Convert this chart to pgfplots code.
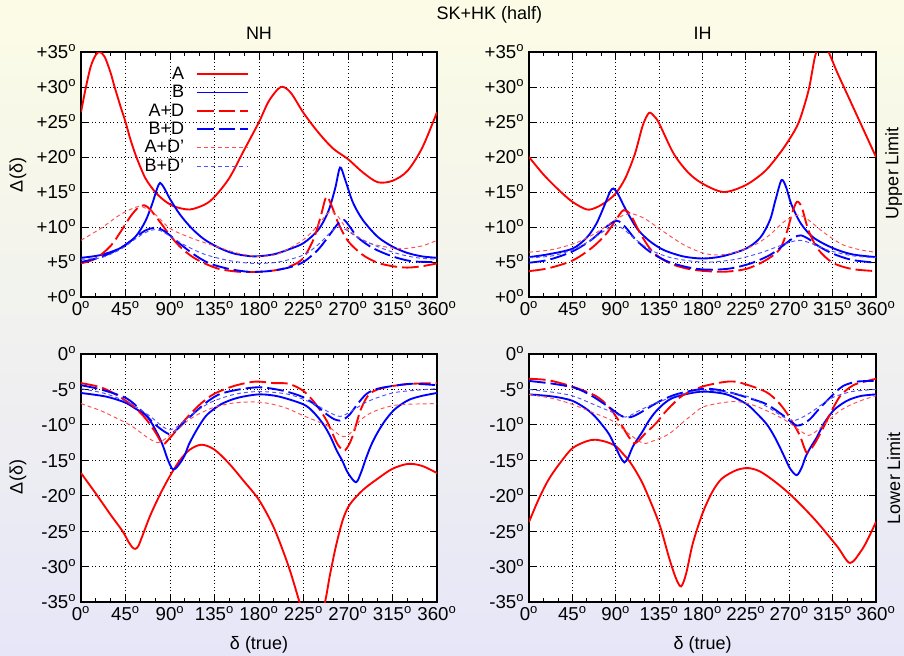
\documentclass[border=0pt]{standalone}
\usepackage{pgfplots}
\pgfplotsset{compat=1.18}
\usepackage{fontspec}
\setmainfont{Liberation Sans}
\newcommand{\dg}[1]{#1\textsuperscript{o}}
\definecolor{bgtop}{RGB}{252,252,230}
\definecolor{bgmid}{RGB}{242,242,242}
\definecolor{bgbot}{RGB}{230,230,248}
\definecolor{lred}{RGB}{255,80,80}
\definecolor{lblue}{RGB}{80,80,255}
\pgfplotsset{
  panel/.style={
    scale only axis, anchor=south west,
    xmin=0, xmax=360,
    xtick={0,45,...,360},
    xticklabels={\dg{0},\dg{45},\dg{90},\dg{135},\dg{180},\dg{225},\dg{270},\dg{315},\dg{360}},
    minor x tick num=2,
    tick align=inside,
    major tick length=5pt, minor tick length=3pt,
    every tick/.style={black, line width=0.6pt},
    grid=major,
    major grid style={black, line width=0.6pt, dash pattern=on 0.6pt off 2.1pt},
    axis line style={black, line width=1.1pt},
    axis background/.style={fill=white},
    tick label style={font=\fontsize{14}{14}\selectfont},
    legend image code/.code={\draw[##1] (0pt,0pt) -- (38pt,0pt);},
  },
  upper/.style={ymin=0, ymax=35, ytick={0,5,...,35},
    yticklabels={\dg{+0},\dg{+5},\dg{+10},\dg{+15},\dg{+20},\dg{+25},\dg{+30},\dg{+35}}},
  lower/.style={ymin=-35, ymax=0, ytick={-35,-30,...,0},
    yticklabels={\dg{-35},\dg{-30},\dg{-25},\dg{-20},\dg{-15},\dg{-10},\dg{-5},\dg{0}}},
  sA/.style={red, line width=1.4pt, smooth, tension=0.5},
  sB/.style={blue, line width=1.4pt, smooth, tension=0.5},
  sAD/.style={red, line width=1.4pt, dash pattern=on 12.5pt off 3.75pt, smooth, tension=0.5},
  sBD/.style={blue, line width=1.4pt, dash pattern=on 12.5pt off 3.75pt, smooth, tension=0.5},
  sADp/.style={lred, line width=0.7pt, dash pattern=on 3pt off 2.3pt, smooth, tension=0.5},
  sBDp/.style={lblue, line width=0.7pt, dash pattern=on 3pt off 2.3pt, smooth, tension=0.5},
}
\begin{document}
\begin{tikzpicture}
\shade[top color=bgtop, middle color=bgmid, bottom color=bgbot] (0,0) rectangle (678pt,-492pt);
\useasboundingbox (0,0) rectangle (678pt,-492pt);

% ---------------- NH, upper limit ----------------
\begin{axis}[panel, upper, at={(60.75pt,-222.75pt)}, width=267pt, height=183.75pt,
  legend plot pos=right, legend cell align=right,
  legend style={draw=none, fill=none, at={(rel axis cs:0.483,0.962)}, anchor=north east,
    column sep=7pt, row sep=-1pt,
    font=\fontsize{13.5}{13.5}\selectfont}]
\addplot[sA] coordinates {(0,26.4) (5,30) (10,33) (15,34.6) (19,35) (24,34.3) (30,32) (34,30) (40,27.2) (45,25) (50,22.5) (56,20) (65,17) (75,15) (85,13.7) (95,12.9) (110,12.5) (125,13.2) (135,14.3) (150,17) (165,21) (180,25) (190,28) (202,30) (212,29.2) (225,26.3) (240,23.5) (255,21.2) (270,19.7) (285,17.8) (300,16.4) (315,16.6) (330,18) (345,21.3) (360,26.4)};
\addlegendentry{A}
\addplot[sB] coordinates {(0,5.6) (20,6.0) (40,7.0) (55,8.6) (65,10.8) (72,13.3) (77,15.5) (80,16.3) (84,15.6) (90,14) (100,11.8) (112,9.8) (125,8.2) (140,7) (155,6.2) (175,5.8) (195,6.1) (210,6.8) (225,7.7) (240,9.6) (250,12.2) (257,15.5) (262,18.5) (267,16.8) (275,13.5) (285,11) (300,8.6) (315,7.2) (330,6.3) (345,5.8) (360,5.6)};
\addlegendentry{B}
\addplot[sAD] coordinates {(0,4.8) (15,5.5) (30,7.3) (40,9.3) (50,11.5) (58,12.8) (64,13.1) (70,12.5) (80,10.7) (90,8.8) (100,7.2) (112,5.8) (125,4.8) (140,4.0) (160,3.6) (180,3.6) (200,3.9) (215,4.6) (225,5.6) (235,8.2) (242,11.3) (248,14.3) (253,13.2) (260,10.6) (270,8) (285,6) (300,4.9) (315,4.4) (330,4.2) (345,4.4) (360,4.8)};
\addlegendentry{A+D}
\addplot[sBD] coordinates {(0,5) (20,5.7) (40,7) (55,8.5) (65,9.5) (75,9.9) (82,9.6) (90,8.8) (100,7.6) (115,6) (130,4.8) (150,4.0) (170,3.6) (190,3.7) (210,4.2) (225,5) (240,6.8) (252,9) (260,10.5) (266,11) (272,10) (280,8.5) (295,7) (315,5.8) (335,5.1) (360,5)};
\addlegendentry{B+D}
\addplot[sADp] coordinates {(0,8.1) (20,9.8) (40,11.8) (55,12.8) (62,12.9) (75,11.8) (90,9.8) (110,8.5) (135,7.3) (160,6.2) (180,5.8) (200,6.2) (225,8.2) (240,10.3) (248,11.8) (254,12.2) (260,11.5) (270,9.6) (290,7.8) (310,7.1) (325,6.9) (345,7.3) (360,8.1)};
\addlegendentry{A+D'}
\addplot[sBDp] coordinates {(0,5.4) (20,5.6) (40,6.8) (55,8.3) (65,9.2) (73,9.6) (80,9.5) (90,8.7) (105,7.4) (125,6.1) (150,5.2) (175,4.8) (200,5.0) (225,6) (240,7.5) (252,9.2) (260,10) (268,9.6) (280,8.5) (300,7.2) (320,6.2) (340,5.6) (360,5.4)};
\addlegendentry{B+D'}
\end{axis}

% ---------------- IH, upper limit ----------------
\begin{axis}[panel, upper, at={(396.75pt,-222.75pt)}, width=260.25pt, height=183.75pt]
\addplot[sA] coordinates {(0,20) (15,17.5) (30,15.4) (45,13.6) (60,12.5) (70,12.8) (80,13.6) (90,14.8) (100,17) (110,20.5) (118,24.5) (124.5,26.3) (130,25.8) (135,24.8) (150,20.5) (165,17.8) (180,16.2) (202,15) (225,16) (245,18) (260,20.5) (270,22.5) (280,25) (290,29.5) (297,34.5) (303,36.2) (310,35.2) (320,32) (330,29) (345,24.5) (360,20)};
\addplot[sB] coordinates {(0,5.7) (20,6.1) (45,6.9) (60,8.5) (70,10.5) (78,13) (84,15) (87.5,15.5) (92,14.8) (100,12.6) (112,9.8) (125,8) (140,6.7) (160,5.8) (180,5.5) (200,5.8) (225,6.9) (240,8.5) (250,11) (256,14) (262,16.7) (267,15.6) (272,13.3) (282,10.5) (295,8.5) (315,7) (335,6.1) (360,5.7)};
\addplot[sAD] coordinates {(0,3.7) (20,4.1) (45,5.2) (65,7) (80,9) (90,11) (98,12.4) (105,11.8) (115,9.2) (125,7) (135,5.7) (150,4.6) (170,3.9) (200,3.6) (225,4) (245,5.2) (260,6.8) (268,9.5) (273,12) (278,13.6) (283,12.8) (290,9.5) (300,6.8) (315,4.9) (335,4) (360,3.7)};
\addplot[sBD] coordinates {(0,4.9) (20,5.3) (45,6.5) (65,8.2) (80,10) (91,10.9) (100,10) (110,8.3) (125,6.5) (145,5) (170,4.1) (190,3.9) (210,4.1) (230,4.8) (250,6) (265,7.5) (275,8.5) (282,8.8) (290,8.3) (300,7.3) (315,6.2) (335,5.3) (360,4.9)};
\addplot[sADp] coordinates {(0,6.4) (25,6.8) (50,7.8) (70,9.2) (85,10.6) (95,11.5) (106,11.9) (120,11.2) (140,9.3) (160,7.5) (180,6.3) (196,6) (215,6.4) (235,7.5) (250,8.9) (265,10.8) (279,11.7) (290,11) (305,9.3) (325,7.5) (345,6.7) (360,6.4)};
\addplot[sBDp] coordinates {(0,5.6) (25,5.9) (50,7) (70,8.7) (82,9.8) (89,10.2) (97,9.8) (110,8.3) (125,6.8) (145,5.7) (170,5.1) (190,5) (215,5.4) (240,6.3) (260,7.3) (279,8.1) (292,7.7) (310,6.7) (335,5.9) (360,5.6)};
\end{axis}

% ---------------- NH, lower limit ----------------
\begin{axis}[panel, lower, at={(60.75pt,-451.5pt)}, width=267pt, height=186pt]
\addplot[sA] coordinates {(0,-16.8) (15,-19.7) (30,-22.7) (42,-25) (48,-26.5) (52,-27.3) (55,-27.5) (58,-27.1) (62,-25.7) (70,-22.8) (80,-19.8) (90,-17.2) (100,-15) (110,-13.5) (122,-12.8) (135,-13.5) (150,-15.5) (165,-18) (180,-20.6) (195,-24.5) (210,-30) (222,-35.5) (232,-40) (245,-36) (252,-31) (258,-27) (265,-23.3) (272,-21.2) (285,-19.2) (300,-17.6) (315,-16.2) (331,-15.5) (345,-15.8) (360,-16.8)};
\addplot[sB] coordinates {(0,-5.5) (25,-6) (43.8,-6.8) (55,-7.7) (67.4,-8.9) (77.5,-11.3) (83,-13) (88,-15) (93,-16.3) (98,-15.8) (104.5,-14.4) (109,-12.8) (114.6,-11.3) (121,-9.8) (128,-8.5) (141.5,-7.1) (158,-6.2) (180,-5.7) (200,-6) (224.8,-7.1) (235,-8.2) (245,-9.9) (252,-11.6) (258.5,-13.6) (264,-15) (270,-16.8) (278,-18.1) (283,-16.8) (288,-14.8) (293,-13) (299,-11.3) (307,-9.5) (315.8,-8) (324,-7.1) (332.7,-6.4) (345,-5.9) (360,-5.5)};
\addplot[sAD] coordinates {(0,-4.1) (20,-4.7) (35,-5.7) (50.5,-7.1) (60,-8.3) (67,-9.4) (75,-11) (80,-12.2) (83,-12.8) (87,-12.3) (94,-11.2) (102,-9.8) (111,-8.4) (122,-6.9) (135,-5.6) (155,-4.5) (176,-3.9) (195,-4.1) (210,-4.2) (224.8,-5.2) (237,-7) (248.4,-9.4) (258.5,-12.5) (264,-13.5) (267,-13.6) (271,-12.8) (275.4,-11.3) (282,-8.2) (287,-6.6) (292,-5.6) (300,-5) (315.8,-4.5) (335,-4.2) (360,-4.1)};
\addplot[sBD] coordinates {(0,-4.4) (20,-5) (43.8,-6.1) (55,-7.2) (67.4,-8.9) (78,-10.3) (89,-11.3) (95,-10.9) (101,-10.1) (110,-8.9) (121,-7.5) (131,-6.4) (141.5,-5.6) (160,-5) (181,-4.7) (205,-5.2) (224.8,-6.1) (238,-7.3) (248.4,-8.5) (256,-9.2) (262,-9.4) (267,-9.1) (272,-8.5) (280,-7) (289,-5.6) (300,-4.9) (315.8,-4.5) (335,-4.2) (360,-4.4)};
\addplot[sADp] coordinates {(0,-7) (20,-8) (33.7,-8.9) (50.5,-10.1) (67.4,-11.8) (77.5,-12.5) (85,-12) (91,-11.3) (100,-10.4) (108,-9.4) (120,-8.4) (135,-7.5) (155,-6.9) (181,-6.8) (205,-7.5) (224.8,-8.7) (248.4,-10.1) (262,-11.5) (268,-11.6) (275,-10.8) (282,-9.4) (292,-8.4) (302,-7.8) (315,-7.3) (329,-7.1) (360,-7)};
\addplot[sBDp] coordinates {(0,-4.9) (25,-5.6) (50,-7) (70,-8.8) (82,-10.2) (90,-10.7) (98,-10.2) (110,-8.8) (130,-6.9) (155,-5.7) (180,-5.3) (210,-5.7) (235,-7) (252,-8.3) (262,-8.8) (272,-8.2) (290,-6.7) (315,-5.5) (340,-5.1) (360,-4.9)};
\end{axis}

% ---------------- IH, lower limit ----------------
\begin{axis}[panel, lower, at={(396.75pt,-451.5pt)}, width=260.25pt, height=186pt]
\addplot[sA] coordinates {(0,-23.7) (10,-20.5) (20,-17.8) (31,-15.6) (45,-13.3) (60,-12.3) (69,-12.1) (80,-12.4) (90,-13) (97,-14) (104,-15.1) (112,-16.8) (120,-18.9) (135,-23.9) (145,-28.6) (152,-31.5) (157.7,-32.8) (163,-31) (170,-26.7) (180,-22.5) (190,-19.5) (200,-17.6) (215,-16.4) (227.5,-16.1) (240,-16.6) (255,-18) (270,-19.7) (285,-21.7) (300,-23.9) (320,-27.2) (333,-29.5) (345,-27.7) (352,-26) (360,-23.7)};
\addplot[sB] coordinates {(0,-5.7) (25,-6) (45,-6.6) (60,-7.8) (69,-8.9) (77,-10.2) (83,-11.3) (90,-13.2) (95,-14.6) (99,-15.3) (103,-14.6) (108,-13) (117.5,-11) (124,-9.5) (131,-8.2) (140,-7) (149,-6.2) (165,-5.6) (182,-5.3) (205,-5.7) (225,-7) (235,-8.2) (246.6,-9.9) (254,-11.5) (260.4,-13.2) (266,-14.8) (271,-16.2) (277.7,-17.1) (283,-16) (287,-14.5) (292,-13.2) (298.4,-11.8) (306,-9.8) (315.7,-8.0) (325,-7) (333,-6.4) (345,-5.9) (360,-5.7)};
\addplot[sAD] coordinates {(0,-3.5) (20,-3.7) (45,-4.6) (69,-5.9) (83,-7.5) (95,-9.8) (103,-11.6) (109,-12.6) (114,-12.2) (120,-11.3) (131,-9.9) (140,-8.4) (149,-7.1) (160,-5.8) (180,-4.6) (200,-4.0) (213.7,-3.9) (230,-4.5) (246.6,-5.4) (258,-6.7) (267.3,-8.3) (275,-10) (281,-11.5) (285,-13) (288,-13.9) (292,-13.5) (297,-12.5) (303,-11) (309,-9.4) (316,-7.5) (323,-5.9) (332,-4.8) (340,-4.2) (360,-3.5)};
\addplot[sBD] coordinates {(0,-3.8) (25,-4.2) (48,-4.8) (65,-5.9) (83,-7.5) (92,-8.4) (98.5,-8.9) (106,-8.9) (114,-8.4) (125,-7.5) (138,-6.5) (155,-5.6) (182.6,-4.9) (205,-5.3) (230,-6.3) (246.6,-7.1) (264,-8.7) (272,-9.6) (278,-10.1) (284,-9.9) (291.5,-9.2) (300,-7.9) (309,-6.6) (318,-5.4) (326,-4.5) (340,-3.9) (360,-3.8)};
\addplot[sADp] coordinates {(0,-5.7) (25,-6.3) (45,-7.1) (65,-8.2) (86,-9.4) (104,-11.3) (118.6,-12.6) (130,-12.2) (145,-11.3) (160,-9.6) (170,-8.5) (180,-7.5) (195,-7) (213.7,-6.7) (230,-7.1) (246.6,-8) (260,-8.9) (270,-9.7) (280,-10.7) (290,-11.5) (297,-11) (305,-10.1) (314,-9) (322.6,-8) (335,-7.1) (348,-6.4) (360,-5.9)};
\addplot[sBDp] coordinates {(0,-5) (25,-5.4) (45,-5.9) (65,-7) (86,-8.2) (100,-8.9) (114,-8) (125,-7.3) (138,-6.6) (155,-5.8) (180,-5.1) (205,-5.4) (229,-6.1) (250,-7.7) (264,-8.9) (274,-9.4) (284,-8.9) (295,-8) (305,-7) (315.7,-6.1) (335,-5.3) (360,-5)};
\end{axis}

% titles and labels
\begin{scope}[every node/.style={font=\fontsize{13.5}{13.5}\selectfont, inner sep=0pt}]
\node at (367.1pt,-11.25pt) {SK+HK (half)};
\node at (194.25pt,-24.75pt) {NH};
\node at (527pt,-24.75pt) {IH};
\node[rotate=90] at (670.3pt,-129.75pt) {Upper Limit};
\node[rotate=90] at (670.3pt,-358.5pt) {Lower Limit};
\node[rotate=90] at (13.5pt,-131.25pt) {Δ(δ)};
\node[rotate=90] at (13.5pt,-357.75pt) {Δ(δ)};
\node at (194.25pt,-483.75pt) {δ (true)};
\node at (527pt,-483.75pt) {δ (true)};
\end{scope}
\end{tikzpicture}
\end{document}
